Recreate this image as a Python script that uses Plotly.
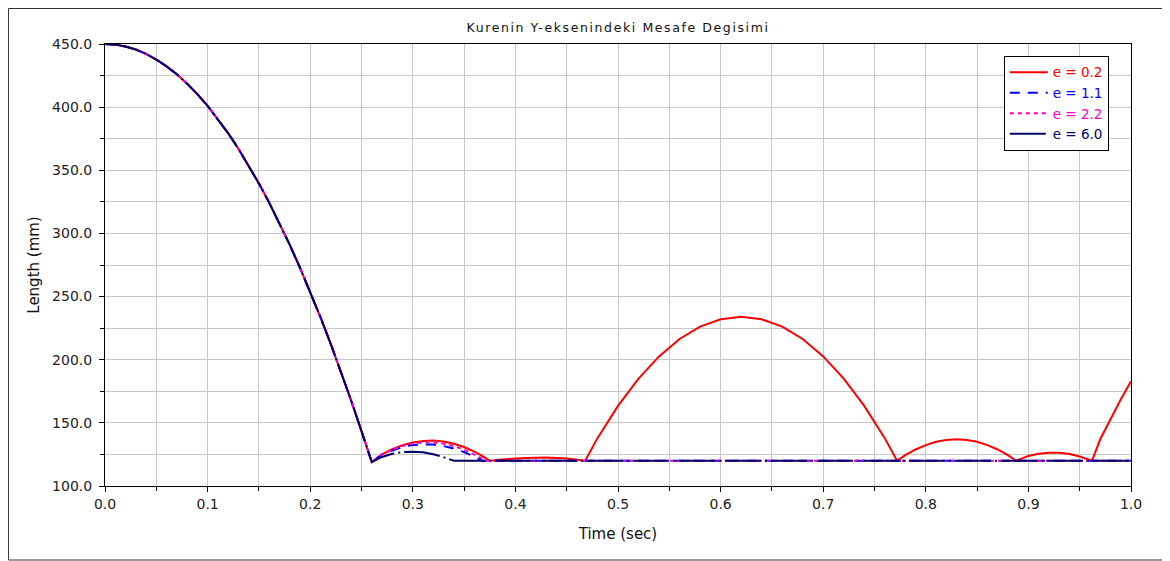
import plotly.graph_objects as go

# Shared free-fall segment
t_fall = [0.00, 0.01, 0.02, 0.03, 0.04, 0.05, 0.06, 0.07, 0.08, 0.09, 0.10,
          0.11, 0.12, 0.13, 0.14, 0.15, 0.16, 0.17, 0.18, 0.19, 0.20,
          0.21, 0.22, 0.23, 0.24, 0.25, 0.26]
y_fall = [450.0, 449.5, 448.0, 445.6, 442.2, 437.7, 432.3, 426.0, 418.6, 410.3, 401.0,
          390.6, 379.4, 367.1, 353.9, 339.6, 324.4, 308.2, 291.1, 272.9, 253.8,
          233.7, 212.6, 190.5, 167.5, 143.4, 119.0]

# e = 0.2 (red) after first impact
t_e02 = [0.27, 0.28, 0.29, 0.30, 0.31, 0.32, 0.33, 0.34, 0.35, 0.36, 0.37, 0.375,
         0.39, 0.41, 0.43, 0.45, 0.468,
         0.48, 0.50, 0.52, 0.54, 0.56, 0.58, 0.60, 0.62, 0.64, 0.66, 0.68, 0.70,
         0.72, 0.74, 0.76, 0.772,
         0.78, 0.79, 0.80, 0.81, 0.82, 0.83, 0.84, 0.85, 0.86, 0.87, 0.88, 0.888,
         0.90, 0.91, 0.92, 0.93, 0.94, 0.95, 0.962,
         0.97, 0.98, 0.99, 1.00]
y_e02 = [125.0, 129.2, 132.3, 134.5, 135.7, 136.0, 135.2, 133.5, 130.9, 127.3, 122.7, 120.0,
         121.2, 122.2, 122.5, 121.8, 120.0,
         137.9, 163.4, 185.0, 202.6, 216.4, 226.2, 232.0, 234.0, 232.0, 226.2, 216.4, 202.6,
         185.0, 163.4, 137.9, 120.0,
         124.4, 128.9, 132.4, 135.0, 136.5, 137.0, 136.5, 135.0, 132.4, 128.9, 124.4, 120.0,
         123.8, 125.6, 126.4, 126.3, 125.3, 123.3, 120.0,
         137.0, 153.0, 168.5, 183.0]

# e = 1.1 (blue)
t_e11 = [0.27, 0.28, 0.29, 0.30, 0.31, 0.32, 0.33, 0.34, 0.35, 0.36, 0.3675, 0.50, 0.75, 1.00]
y_e11 = [125.0, 128.3, 131.0, 132.5, 133.0, 132.8, 131.6, 129.6, 126.8, 123.3, 120.0, 120.0, 120.0, 120.0]

# e = 2.2 (magenta)
t_e22 = [0.27, 0.28, 0.29, 0.30, 0.31, 0.32, 0.33, 0.34, 0.35, 0.36, 0.372, 0.50, 0.75, 1.00]
y_e22 = [125.0, 128.8, 131.8, 133.6, 134.4, 134.4, 133.5, 131.6, 128.8, 125.0, 120.0, 120.0, 120.0, 120.0]

# e = 6.0 (navy)
t_e60 = [0.27, 0.28, 0.29, 0.30, 0.31, 0.32, 0.33, 0.34, 0.50, 0.75, 1.00]
y_e60 = [123.0, 125.5, 126.8, 127.2, 126.8, 125.2, 122.8, 120.0, 120.0, 120.0, 120.0]

x_ticks = [0.0, 0.1, 0.2, 0.3, 0.4, 0.5, 0.6, 0.7, 0.8, 0.9, 1.0]
y_ticks = [100, 150, 200, 250, 300, 350, 400, 450]

series = [
    ("e = 0.2", t_e02, y_e02, "#ff0000", "solid"),
    ("e = 1.1", t_e11, y_e11, "#0000ff", "10px,8px"),
    ("e = 2.2", t_e22, y_e22, "#ff00cc", "4px,4px"),
    ("e = 6.0", t_e60, y_e60, "#000066", "36px,4px,2px,4px"),
]

fig = go.Figure()
for name, ts, ys, col, dash in series:
    fig.add_trace(go.Scatter(
        x=t_fall + ts, y=y_fall + ys, mode="lines",
        name=f'<span style="color:{col}">{name}</span>',
        line=dict(color=col, width=2, dash=dash),
    ))

font_family = "DejaVu Sans, Verdana, sans-serif"
axis_common = dict(
    showline=True, linecolor="#000000", linewidth=1, mirror=True,
    ticks="outside", ticklen=5, tickcolor="#000000",
    showgrid=True, gridcolor="#c8c8c8", gridwidth=1,
    zeroline=False, tickformat=".1f",
    tickfont=dict(family=font_family, size=14, color="#222222"),
    minor=dict(ticks="outside", ticklen=4, tickcolor="#000000",
               showgrid=True, gridcolor="#c8c8c8", gridwidth=1),
)

fig.update_xaxes(
    range=[0, 1], tickvals=x_ticks, minor_dtick=0.05,
    title=dict(text="Time (sec)", font=dict(family=font_family, size=15, color="#111111"), standoff=17),
    **axis_common,
)
fig.update_yaxes(
    range=[100, 450], tickvals=y_ticks, minor_dtick=25, ticklabelstandoff=4,
    title=dict(text="Length (mm)", font=dict(family=font_family, size=15, color="#111111"), standoff=8),
    **axis_common,
)

fig.update_layout(
    width=1170, height=561,
    margin=dict(l=97, r=47, t=36, b=83),
    paper_bgcolor="#ffffff", plot_bgcolor="#ffffff",
    font=dict(family=font_family, size=14, color="#111111"),
    title=dict(text='<span style="letter-spacing:1.6px">Kurenin Y-eksenindeki Mesafe Degisimi</span>',
               x=610 / 1170, xanchor="center", y=1 - 19.5 / 561, yanchor="middle",
               font=dict(family=font_family, size=12.5, color="#111111")),
    legend=dict(x=0.876, y=0.973, xanchor="left", yanchor="top",
                bgcolor="#ffffff", bordercolor="#000000", borderwidth=1,
                itemwidth=38,
                font=dict(family=font_family, size=13.5), tracegroupgap=0),
    showlegend=True,
)

fig.add_shape(type="rect", xref="paper", yref="paper",
              x0=-0.0941, x1=1.0526, y0=-0.1674, y1=1.0803,
              line=dict(color="#333333", width=1), fillcolor="rgba(0,0,0,0)", layer="below")

fig.write_html("out.html")
